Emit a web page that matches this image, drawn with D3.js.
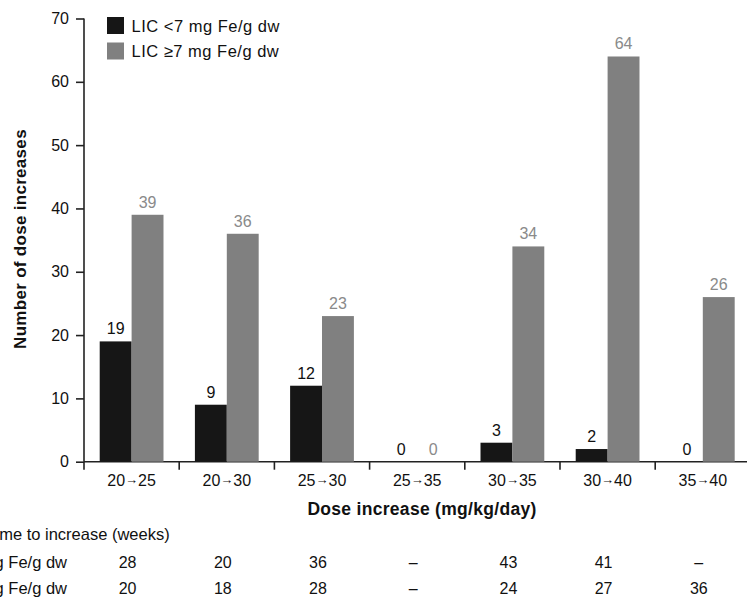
<!DOCTYPE html>
<html>
<head>
<meta charset="utf-8">
<script src="https://d3js.org/d3.v7.min.js"></script>
<style>
  body { margin: 0; background: #fff; }
  svg { display: block; font-family: "Liberation Sans", Arial, sans-serif; }
  .axis path, .axis line { stroke: #222; stroke-width: 1.6; }
  .axis text { font-size: 16px; fill: #111; }
</style>
</head>
<body>
<svg id="chart"></svg>
<script>
const WIDTH  = 747;
const HEIGHT = 598;

// data
const categories = [["20", "25"], ["20", "30"], ["25", "30"], ["25", "35"], ["30", "35"], ["30", "40"], ["35", "40"]];
const seriesNames = ["LIC <7 mg Fe/g dw", "LIC \u22657 mg Fe/g dw"];
const lowLIC  = [19, 9, 12, 0, 3, 2, 0];
const highLIC = [39, 36, 23, 0, 34, 64, 26];
const yTicks = [0, 10, 20, 30, 40, 50, 60, 70];
const weeksLow  = ["28", "20", "36", "\u2013", "43", "41", "\u2013"];
const weeksHigh = ["20", "18", "28", "\u2013", "24", "27", "36"];

const barColors   = ["#161616", "#808080"];
const labelColors = ["#111111", "#8a8a8a"];

const catKeys = categories.map(d => d.join("-"));

const svg = d3.select('#chart')
  .attr('width', WIDTH)
  .attr('height', HEIGHT);

const x0 = d3.scaleBand()
  .domain(catKeys)
  .range([84, 750.4])
  .paddingInner(0.33)
  .paddingOuter(0.165);

const x1 = d3.scaleBand()
  .domain([0, 1])
  .range([0, x0.bandwidth()]);

const y = d3.scaleLinear()
  .domain([0, 70])
  .range([461.7, 18.5]);

// y axis
const yAxis = svg.append('g')
  .attr('class', 'axis')
  .attr('transform', 'translate(84,0)')
  .call(d3.axisLeft(y).tickValues(yTicks).tickSize(8).tickPadding(7));
yAxis.select('.domain').attr('d', 'M0,' + y(70) + 'V' + y(0));

// x axis baseline + boundary ticks
const xg = svg.append('g').attr('class', 'axis');
xg.append('line')
  .attr('x1', 84).attr('x2', WIDTH)
  .attr('y1', y(0)).attr('y2', y(0));
xg.selectAll('line.tick')
  .data(catKeys)
  .join('line')
    .attr('class', 'tick')
    .attr('x1', d => x0(d) + x0.bandwidth() / 2 - x0.step() / 2)
    .attr('x2', d => x0(d) + x0.bandwidth() / 2 - x0.step() / 2)
    .attr('y1', y(0))
    .attr('y2', y(0) + 8);

// category labels
const catText = svg.append('g').selectAll('text')
  .data(categories)
  .join('text')
    .attr('x', (d, i) => x0(catKeys[i]) + x0.bandwidth() / 2)
    .attr('y', 486)
    .attr('text-anchor', 'middle')
    .style('font-size', '16px')
    .style('fill', '#111');
catText.append('tspan').text(d => d[0]);
catText.append('tspan').style('font-size', '13px').attr('dy', -2).text('\u2192');
catText.append('tspan').attr('dy', 2).text(d => d[1]);

// bars
const seriesData = [lowLIC, highLIC];
seriesData.forEach((vals, s) => {
  svg.append('g').selectAll('rect')
    .data(vals)
    .join('rect')
      .attr('x', (d, i) => x0(catKeys[i]) + x1(s))
      .attr('width', x1.bandwidth())
      .attr('y', d => y(d))
      .attr('height', d => y(0) - y(d))
      .attr('fill', barColors[s]);

  svg.append('g').selectAll('text')
    .data(vals)
    .join('text')
      .attr('x', (d, i) => x0(catKeys[i]) + x1(s) + x1.bandwidth() / 2)
      .attr('y', d => y(d) - 7)
      .attr('text-anchor', 'middle')
      .style('font-size', '16px')
      .style('fill', labelColors[s])
      .text(d => d);
});

// axis titles
svg.append('text')
  .attr('transform', 'translate(26,239) rotate(-90)')
  .attr('text-anchor', 'middle')
  .style('font-size', '17px')
  .style('letter-spacing', '0.3px')
  .style('font-weight', 'bold')
  .style('fill', '#111')
  .text('Number of dose increases');

svg.append('text')
  .attr('x', 422)
  .attr('y', 515)
  .attr('text-anchor', 'middle')
  .style('font-size', '17.5px')
  .style('letter-spacing', '0.3px')
  .style('font-weight', 'bold')
  .style('fill', '#111')
  .text('Dose increase (mg/kg/day)');

// legend
const legend = svg.append('g').selectAll('g')
  .data(seriesNames)
  .join('g')
    .attr('transform', (d, i) => 'translate(107,' + (17 + i * 25.5) + ')');
legend.append('rect')
  .attr('width', 17).attr('height', 17)
  .attr('fill', (d, i) => barColors[i]);
legend.append('text')
  .attr('x', 24.5).attr('y', 14.5)
  .style('font-size', '16.5px')
  .style('letter-spacing', '0.5px')
  .style('fill', '#111')
  .text(d => d);

// time-to-increase table (cut off at the left in the original)
svg.append('text')
  .attr('x', -14)
  .attr('y', 540)
  .style('font-size', '16.5px')
  .style('fill', '#111')
  .text('Time to increase (weeks)');

[weeksLow, weeksHigh].forEach((row, r) => {
  const yy = 568 + r * 26;
  svg.append('text')
    .attr('x', 67)
    .attr('y', yy)
    .attr('text-anchor', 'end')
    .style('font-size', '16.5px')
    .style('fill', '#111')
    .text(seriesNames[r]);
  svg.append('g').selectAll('text')
    .data(row)
    .join('text')
      .attr('x', (d, i) => x0(catKeys[i]) + x0.bandwidth() / 2 - 4)
      .attr('y', yy)
      .attr('text-anchor', 'middle')
      .style('font-size', '16px')
      .style('fill', '#111')
      .text(d => d);
});
</script>
</body>
</html>
